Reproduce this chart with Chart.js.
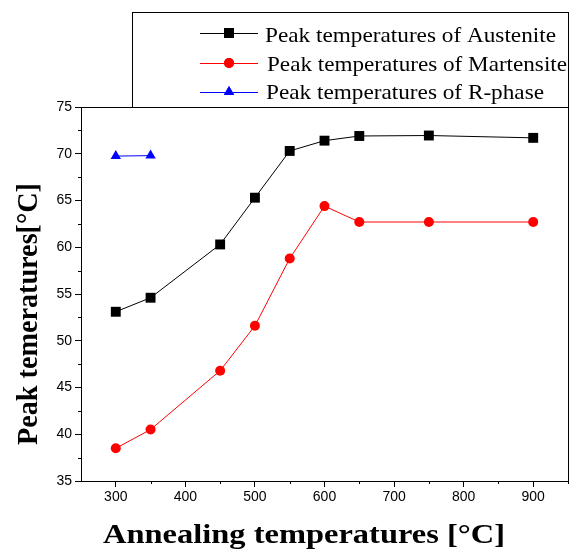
<!DOCTYPE html>
<html>
<head>
<meta charset="utf-8">
<script src="https://cdn.jsdelivr.net/npm/chart.js@4"></script>
<style>
  html, body { margin: 0; padding: 0; background: #fff; }
  #wrap { width: 571px; height: 552px; }
</style>
</head>
<body>
<div id="wrap"><canvas id="peakChart" width="571" height="552"></canvas></div>
<script>
const annealTemps = [300, 350, 450, 500, 550, 600, 650, 750, 900];
const austenite = [53.1, 54.6, 60.3, 65.3, 70.3, 71.4, 71.9, 71.95, 71.7];
const martensite = [38.5, 40.5, 46.8, 51.6, 58.8, 64.4, 62.7, 62.7, 62.7];
const rphaseTemps = [300, 350];
const rphase = [69.75, 69.8];
const xTicks = [300, 400, 500, 600, 700, 800, 900];
const yTicks = [35, 40, 45, 50, 55, 60, 65, 70, 75];
const xTitle = 'Annealing temperatures [°C]';
const yTitle = 'Peak temeratures[°C]';

function pts(xs, ys) {
  return xs.map((x, i) => ({ x: x, y: ys[i] }));
}

// draw text squeezed/stretched to a given length
function fitText(c, txt, x, y, len) {
  const w = c.measureText(txt).width;
  c.save();
  c.translate(x, y);
  c.scale(len / w, 1);
  c.fillText(txt, 0, 0);
  c.restore();
}

// frame, minor ticks, axis titles and the boxed legend
const decor = {
  id: 'decor',
  afterDraw(chart) {
    const c = chart.ctx, a = chart.chartArea;
    const xs = chart.scales.x, ys = chart.scales.y;
    c.save();
    c.strokeStyle = '#000';
    c.lineWidth = 1;
    c.strokeRect(Math.round(a.left) + 0.5, Math.round(a.top) + 0.5,
      Math.round(a.right - a.left), Math.round(a.bottom - a.top));
    c.beginPath();
    for (let v = 350; v <= 950; v += 100) {
      const px = Math.round(xs.getPixelForValue(v)) + 0.5;
      c.moveTo(px, a.bottom); c.lineTo(px, a.bottom + 3);
    }
    for (let v = 37.5; v < 75; v += 5) {
      const py = Math.round(ys.getPixelForValue(v)) + 0.5;
      c.moveTo(a.left, py); c.lineTo(a.left - 3, py);
    }
    c.stroke();

    // axis titles
    c.fillStyle = '#000';
    c.textBaseline = 'alphabetic';
    c.font = 'bold 28px "Liberation Serif", "Times New Roman", serif';
    fitText(c, xTitle, 103, 543, 402);
    c.save();
    c.translate(37, 445);
    c.rotate(-Math.PI / 2);
    c.font = 'bold 30px "Liberation Serif", "Times New Roman", serif';
    fitText(c, yTitle, 0, 0, 262);
    c.restore();

    // legend box
    const bx = 132, by = 12, br = Math.round(a.right);
    c.fillStyle = '#fff';
    c.fillRect(bx, by, br - bx, Math.round(a.top) - by);
    c.strokeRect(bx + 0.5, by + 0.5, br - bx, Math.round(a.top) - by);
    const marks = [33, 63, 92];
    const bases = [42, 71, 99];
    const lens = [291, 300, 278];
    const starts = [265, 267, 266];
    c.font = '21px "Liberation Serif", "Times New Roman", serif';
    chart.data.datasets.forEach((ds, i) => {
      const y = marks[i];
      c.strokeStyle = ds.borderColor;
      c.beginPath(); c.moveTo(200, y + 0.5); c.lineTo(258, y + 0.5); c.stroke();
      c.fillStyle = ds.pointBackgroundColor;
      Chart.helpers.drawPoint(c, { pointStyle: ds.pointStyle, radius: ds.pointRadius, rotation: 0, borderWidth: 0 }, 229, y);
      c.fill();
      c.fillStyle = '#000';
      fitText(c, ds.label, starts[i], bases[i], lens[i]);
    });
    c.restore();
  }
};

new Chart(document.getElementById('peakChart'), {
  type: 'scatter',
  data: {
    datasets: [
      {
        label: 'Peak temperatures of Austenite',
        data: pts(annealTemps, austenite),
        showLine: true, borderColor: '#000', borderWidth: 1,
        pointStyle: 'rect', pointRadius: 7, pointBackgroundColor: '#000',
        pointBorderWidth: 0
      },
      {
        label: 'Peak temperatures of Martensite',
        data: pts(annealTemps, martensite),
        showLine: true, borderColor: '#ff0000', borderWidth: 1,
        pointStyle: 'circle', pointRadius: 5, pointBackgroundColor: '#ff0000',
        pointBorderWidth: 0
      },
      {
        label: 'Peak temperatures of R-phase',
        data: pts(rphaseTemps, rphase),
        showLine: true, borderColor: '#0000ff', borderWidth: 1,
        pointStyle: 'triangle', pointRadius: 6, pointBackgroundColor: '#0000ff',
        pointBorderWidth: 0
      }
    ]
  },
  options: {
    responsive: false,
    animation: false,
    layout: { autoPadding: false, padding: { top: 107, right: 3, left: 0, bottom: 0 } },
    plugins: { legend: { display: false }, tooltip: { enabled: false } },
    scales: {
      x: {
        type: 'linear', min: 250, max: 950,
        afterBuildTicks: s => { s.ticks = xTicks.map(v => ({ value: v })); },
        afterFit: s => { s.height = 71; s.paddingLeft = 0; s.paddingRight = 0; },
        grid: { drawOnChartArea: false, tickLength: 6, color: '#000' },
        border: { color: '#000' },
        ticks: { color: '#000', font: { family: '"Liberation Sans", Arial, sans-serif', size: 14 }, padding: 2 }
      },
      y: {
        min: 35, max: 75,
        afterBuildTicks: s => { s.ticks = yTicks.map(v => ({ value: v })); },
        afterFit: s => { s.width = 81; s.paddingTop = 0; s.paddingBottom = 0; },
        grid: { drawOnChartArea: false, tickLength: 6, color: '#000' },
        border: { color: '#000' },
        ticks: { color: '#000', font: { family: '"Liberation Sans", Arial, sans-serif', size: 14 }, padding: 3 }
      }
    }
  },
  plugins: [decor]
});
</script>
</body>
</html>
